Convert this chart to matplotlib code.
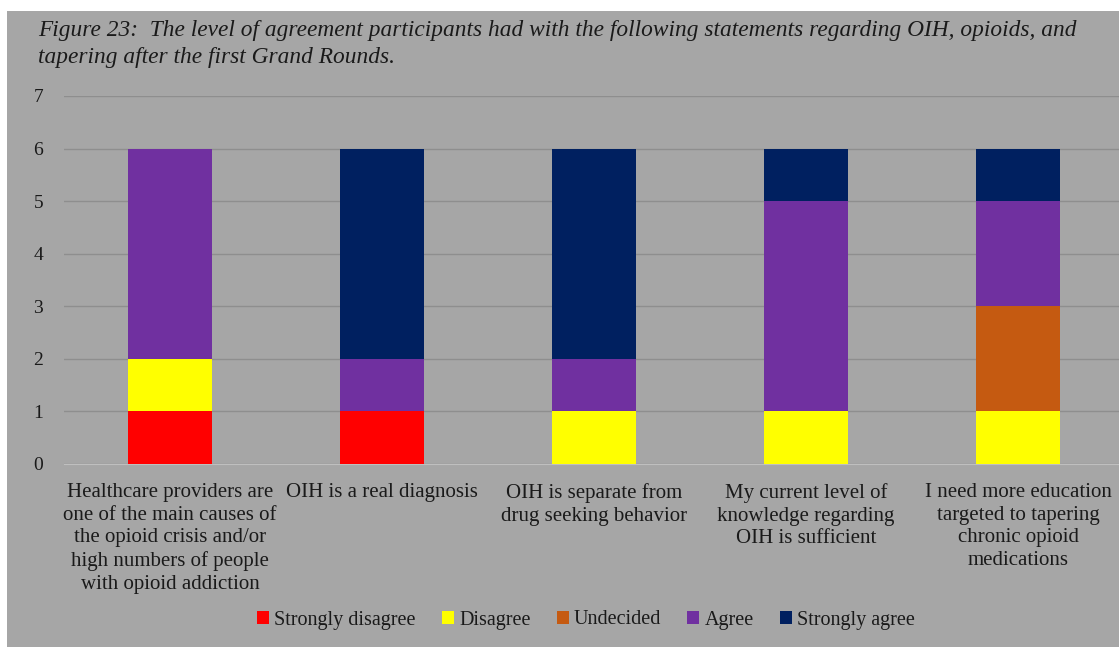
import matplotlib.pyplot as plt
from matplotlib.patches import Rectangle
import numpy as np

# Survey counts per statement
categories = [
    "Healthcare providers are\none of the main causes of\nthe opioid crisis and/or\nhigh numbers of people\nwith opioid addiction",
    "OIH is a real diagnosis",
    "OIH is separate from\ndrug seeking behavior",
    "My current level of\nknowledge regarding\nOIH is sufficient",
    "I need more education\ntargeted to tapering\nchronic opioid\nmedications",
]
strongly_disagree = [1, 1, 0, 0, 0]
disagree = [1, 0, 1, 1, 1]
undecided = [0, 0, 0, 0, 2]
agree = [4, 1, 1, 4, 2]
strongly_agree = [0, 4, 4, 1, 1]

series = [
    ("Strongly disagree", strongly_disagree, "#FF0000"),
    ("Disagree", disagree, "#FFFF00"),
    ("Undecided", undecided, "#C55A11"),
    ("Agree", agree, "#7030A0"),
    ("Strongly agree", strongly_agree, "#002060"),
]

bg = "#A6A6A6"
W, H = 1119, 647
fig = plt.figure(figsize=(W / 100, H / 100), dpi=100)
fig.patch.set_facecolor("white")
fig.add_artist(Rectangle((7 / W, 0), 1 - 7 / W, 1 - 11 / H, transform=fig.transFigure,
                         facecolor=bg, edgecolor="none", zorder=0))

ax = fig.add_axes([64 / W, 1 - 464 / H, 1 - 64 / W, (464 - 96) / H])
ax.set_facecolor(bg)
ax.patch.set_alpha(0)

x = np.arange(len(categories))
bottom = np.zeros(len(categories))
for name, vals, col in series:
    ax.bar(x, vals, width=0.4, bottom=bottom, color=col, label=name, zorder=3)
    bottom += np.array(vals)

ax.set_ylim(0, 7)
ax.set_xlim(-0.5, 4.5 - 5 / 212)
ax.set_yticks(range(0, 8))
ax.grid(axis="y", color="#8E8E8E", linewidth=1, zorder=0)
for s in ["top", "right", "left"]:
    ax.spines[s].set_visible(False)
ax.spines["bottom"].set_color("#BFBFBF")
ax.tick_params(axis="y", length=0, pad=15, labelsize=14, labelcolor="#1a1a1a")
ax.tick_params(axis="x", length=0, pad=14)
ax.set_xticks(x)
ax.set_xticklabels(categories, fontsize=15, color="#1a1a1a", linespacing=1.25,
                   family="Liberation Serif")
for lbl in ax.get_yticklabels():
    lbl.set_family("Liberation Serif")

fig.text(38 / W, 1 - 20 / H,
         "Figure 23:  The level of agreement participants had with the following statements regarding OIH, opioids, and\ntapering after the first Grand Rounds.",
         family="Liberation Serif", style="italic", fontsize=16.8, va="top", ha="left",
         color="#1a1a1a", linespacing=1.38)

leg = fig.legend(loc="center", bbox_to_anchor=(586 / W, 1 - 620 / H), ncol=5,
                 frameon=False, prop={"family": "Liberation Serif", "size": 14.5},
                 handlelength=0.6, handleheight=0.6, handletextpad=0.25, columnspacing=1.3)
for t in leg.get_texts():
    t.set_color("#1a1a1a")

fig.savefig("out.png", dpi=100, facecolor=fig.get_facecolor())
